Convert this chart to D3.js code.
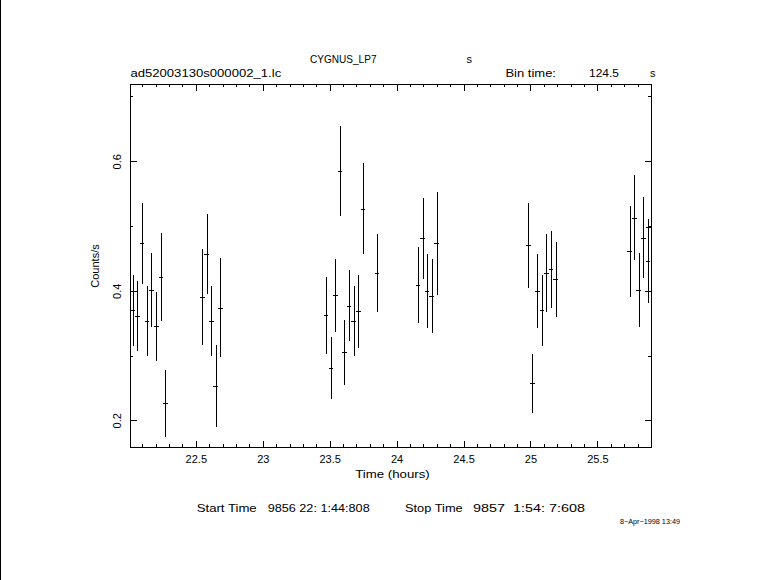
<!DOCTYPE html>
<html><head><meta charset="utf-8">
<script src="https://cdn.jsdelivr.net/npm/d3@7/dist/d3.min.js"></script>
<style>
html,body{margin:0;padding:0;background:#fff;}
svg text{font-family:"Liberation Sans","DejaVu Sans",sans-serif;fill:#000;white-space:pre;}
</style></head>
<body><svg id="c" width="781" height="580"></svg>
<script>
// ---- data ----
const times = [22.027,22.040,22.064,22.099,22.134,22.168,22.204,22.239,22.273,
  22.549,22.581,22.616,22.648,22.683,
  23.472,23.510,23.543,23.577,23.610,23.644,23.679,23.714,23.748,23.853,
  24.161,24.195,24.228,24.262,24.300,
  24.985,25.015,25.052,25.087,25.119,25.154,25.189,
  25.741,25.775,25.808,25.842,25.875,25.879,25.883];
const rates = [0.370,0.399,0.361,0.473,0.353,0.401,0.345,0.421,0.226,
  0.390,0.457,0.353,0.253,0.374,
  0.362,0.281,0.393,0.585,0.305,0.377,0.353,0.368,0.527,0.427,
  0.409,0.481,0.400,0.392,0.473,
  0.470,0.257,0.400,0.370,0.427,0.433,0.418,
  0.461,0.513,0.401,0.482,0.399,0.446,0.499];
const errors = [0.055,0.000,0.054,0.063,0.054,0.057,0.053,0.068,0.052,
  0.074,0.062,0.054,0.063,0.077,
  0.059,0.048,0.056,0.069,0.050,0.055,0.054,0.056,0.070,0.060,
  0.058,0.063,0.057,0.057,0.080,
  0.066,0.045,0.057,0.055,0.060,0.060,0.058,
  0.070,0.065,0.057,0.063,0.000,0.065,0.000];
const xTickValues = [22.5,23,23.5,24,24.5,25,25.5];
const xTickLabels = ["22.5","23","23.5","24","24.5","25","25.5"];
const yTickValues = [0.2,0.4,0.6];
const yTickLabels = ["0.2","0.4","0.6"];
const binTimeSec = 124.5;
const xDomain = [22.012, 25.904];
const yDomain = [0.158, 0.7185];

// ---- layout ----
const FONT = '"Liberation Sans","DejaVu Sans",sans-serif';
const L = 130.5, R = 651.5, T = 84.5, B = 447.5;
const svg = d3.select('#c');
svg.append('rect').attr('width',781).attr('height',580).attr('fill','#fff');
svg.append('line').attr('x1',0.5).attr('x2',0.5).attr('y1',0).attr('y2',580)
  .attr('stroke','#000').attr('stroke-width',1);

const x = d3.scaleLinear().domain(xDomain).range([L, R]);
const y = d3.scaleLinear().domain(yDomain).range([B, T]);

const major = 6.5, minor = 3.2;
function styleAxis(g){
  g.select('.domain').remove();
  g.selectAll('line').attr('stroke','#000').attr('shape-rendering','crispEdges');
  return g;
}
// minor ticks
const xMinor = x.ticks(40), yMinor = y.ticks(6);
styleAxis(svg.append('g').attr('transform',`translate(0,${B-0.5})`)
  .call(d3.axisBottom(x).tickValues(xMinor).tickSizeInner(-minor).tickSizeOuter(0).tickFormat('')));
styleAxis(svg.append('g').attr('transform',`translate(0,${T-0.5})`)
  .call(d3.axisTop(x).tickValues(xMinor).tickSizeInner(-minor).tickSizeOuter(0).tickFormat('')));
styleAxis(svg.append('g').attr('transform',`translate(${L-0.5},0)`)
  .call(d3.axisLeft(y).tickValues(yMinor).tickSizeInner(-minor).tickSizeOuter(0).tickFormat('')));
styleAxis(svg.append('g').attr('transform',`translate(${R-0.5},0)`)
  .call(d3.axisRight(y).tickValues(yMinor).tickSizeInner(-minor).tickSizeOuter(0).tickFormat('')));
// major ticks
const gb = styleAxis(svg.append('g').attr('transform',`translate(0,${B-0.5})`)
  .call(d3.axisBottom(x).tickValues(xTickValues).tickSizeInner(-major).tickSizeOuter(0)
  .tickFormat((d,i)=>xTickLabels[i])));
gb.selectAll('text').attr('y',16).attr('dy',null).attr('font-size','11px')
  .attr('font-family',FONT).attr('fill','#000');
styleAxis(svg.append('g').attr('transform',`translate(0,${T-0.5})`)
  .call(d3.axisTop(x).tickValues(xTickValues).tickSizeInner(-major).tickSizeOuter(0).tickFormat('')));
const gl = styleAxis(svg.append('g').attr('transform',`translate(${L-0.5},0)`)
  .call(d3.axisLeft(y).tickValues(yTickValues).tickSizeInner(-major).tickSizeOuter(0)
  .tickFormat((d,i)=>yTickLabels[i])));
gl.selectAll('text').attr('x',null).attr('dy',null).attr('text-anchor','middle')
  .attr('transform','translate(-9,0) rotate(-90)').attr('font-size','11px')
  .attr('font-family',FONT).attr('fill','#000');
styleAxis(svg.append('g').attr('transform',`translate(${R-0.5},0)`)
  .call(d3.axisRight(y).tickValues(yTickValues).tickSizeInner(-major).tickSizeOuter(0).tickFormat('')));

// frame
svg.append('rect').attr('x',L).attr('y',T).attr('width',R-L).attr('height',B-T)
  .attr('fill','none').attr('stroke','#000').attr('stroke-width',1).attr('shape-rendering','crispEdges');

// data
svg.append('clipPath').attr('id','pc').append('rect')
  .attr('x',L).attr('y',T).attr('width',R-L).attr('height',B-T);
const pts = times.map((t,i)=>({t, r:rates[i], e:errors[i]}));
const half = binTimeSec/3600/2;
const gp = svg.append('g').attr('clip-path','url(#pc)')
  .attr('stroke','#000').attr('stroke-width',1).attr('shape-rendering','crispEdges');
gp.selectAll('line.v').data(pts.filter(d=>d.e>0)).join('line').attr('class','v')
  .attr('x1',d=>Math.round(x(d.t))+0.5).attr('x2',d=>Math.round(x(d.t))+0.5)
  .attr('y1',d=>y(d.r+d.e)).attr('y2',d=>y(d.r-d.e));
gp.selectAll('line.h').data(pts).join('line').attr('class','h')
  .attr('x1',d=>x(d.t-half)).attr('x2',d=>x(d.t+half))
  .attr('y1',d=>Math.round(y(d.r))+0.5).attr('y2',d=>Math.round(y(d.r))+0.5);

// texts
function txt(s, xx, yy, opts={}){
  const t = svg.append('text').attr('x',xx).attr('y',yy).text(s)
    .attr('font-size',opts.size||'11px');
  if(opts.anchor) t.attr('text-anchor',opts.anchor);
  if(opts.len) t.attr('textLength',opts.len).attr('lengthAdjust','spacingAndGlyphs');
  return t;
}
txt('CYGNUS_LP7',310,62.5,{len:66.5});
txt('s',466.6,62.5);
txt('ad52003130s000002_1.lc',130.4,77.4,{len:150.8});
txt('Bin time:',505.4,77.4,{len:50.6});
txt('124.5',589,77.4,{len:30});
txt('s',650,77.4);
txt('Time (hours)',355.2,478,{len:74.5});
svg.append('text').attr('transform','translate(99,266) rotate(-90)')
  .attr('text-anchor','middle').attr('font-size','11px').text('Counts/s');
txt('Start Time',196.7,512,{len:60});
txt('9856 22: 1:44:808',267.7,512,{len:102});
txt('Stop Time',405,512,{len:57.7});
txt('9857  1:54: 7:608',473,512,{len:112});
txt('8\u2212Apr\u22121998 13:49',620,524,{size:'7px',len:60});
</script></body></html>
